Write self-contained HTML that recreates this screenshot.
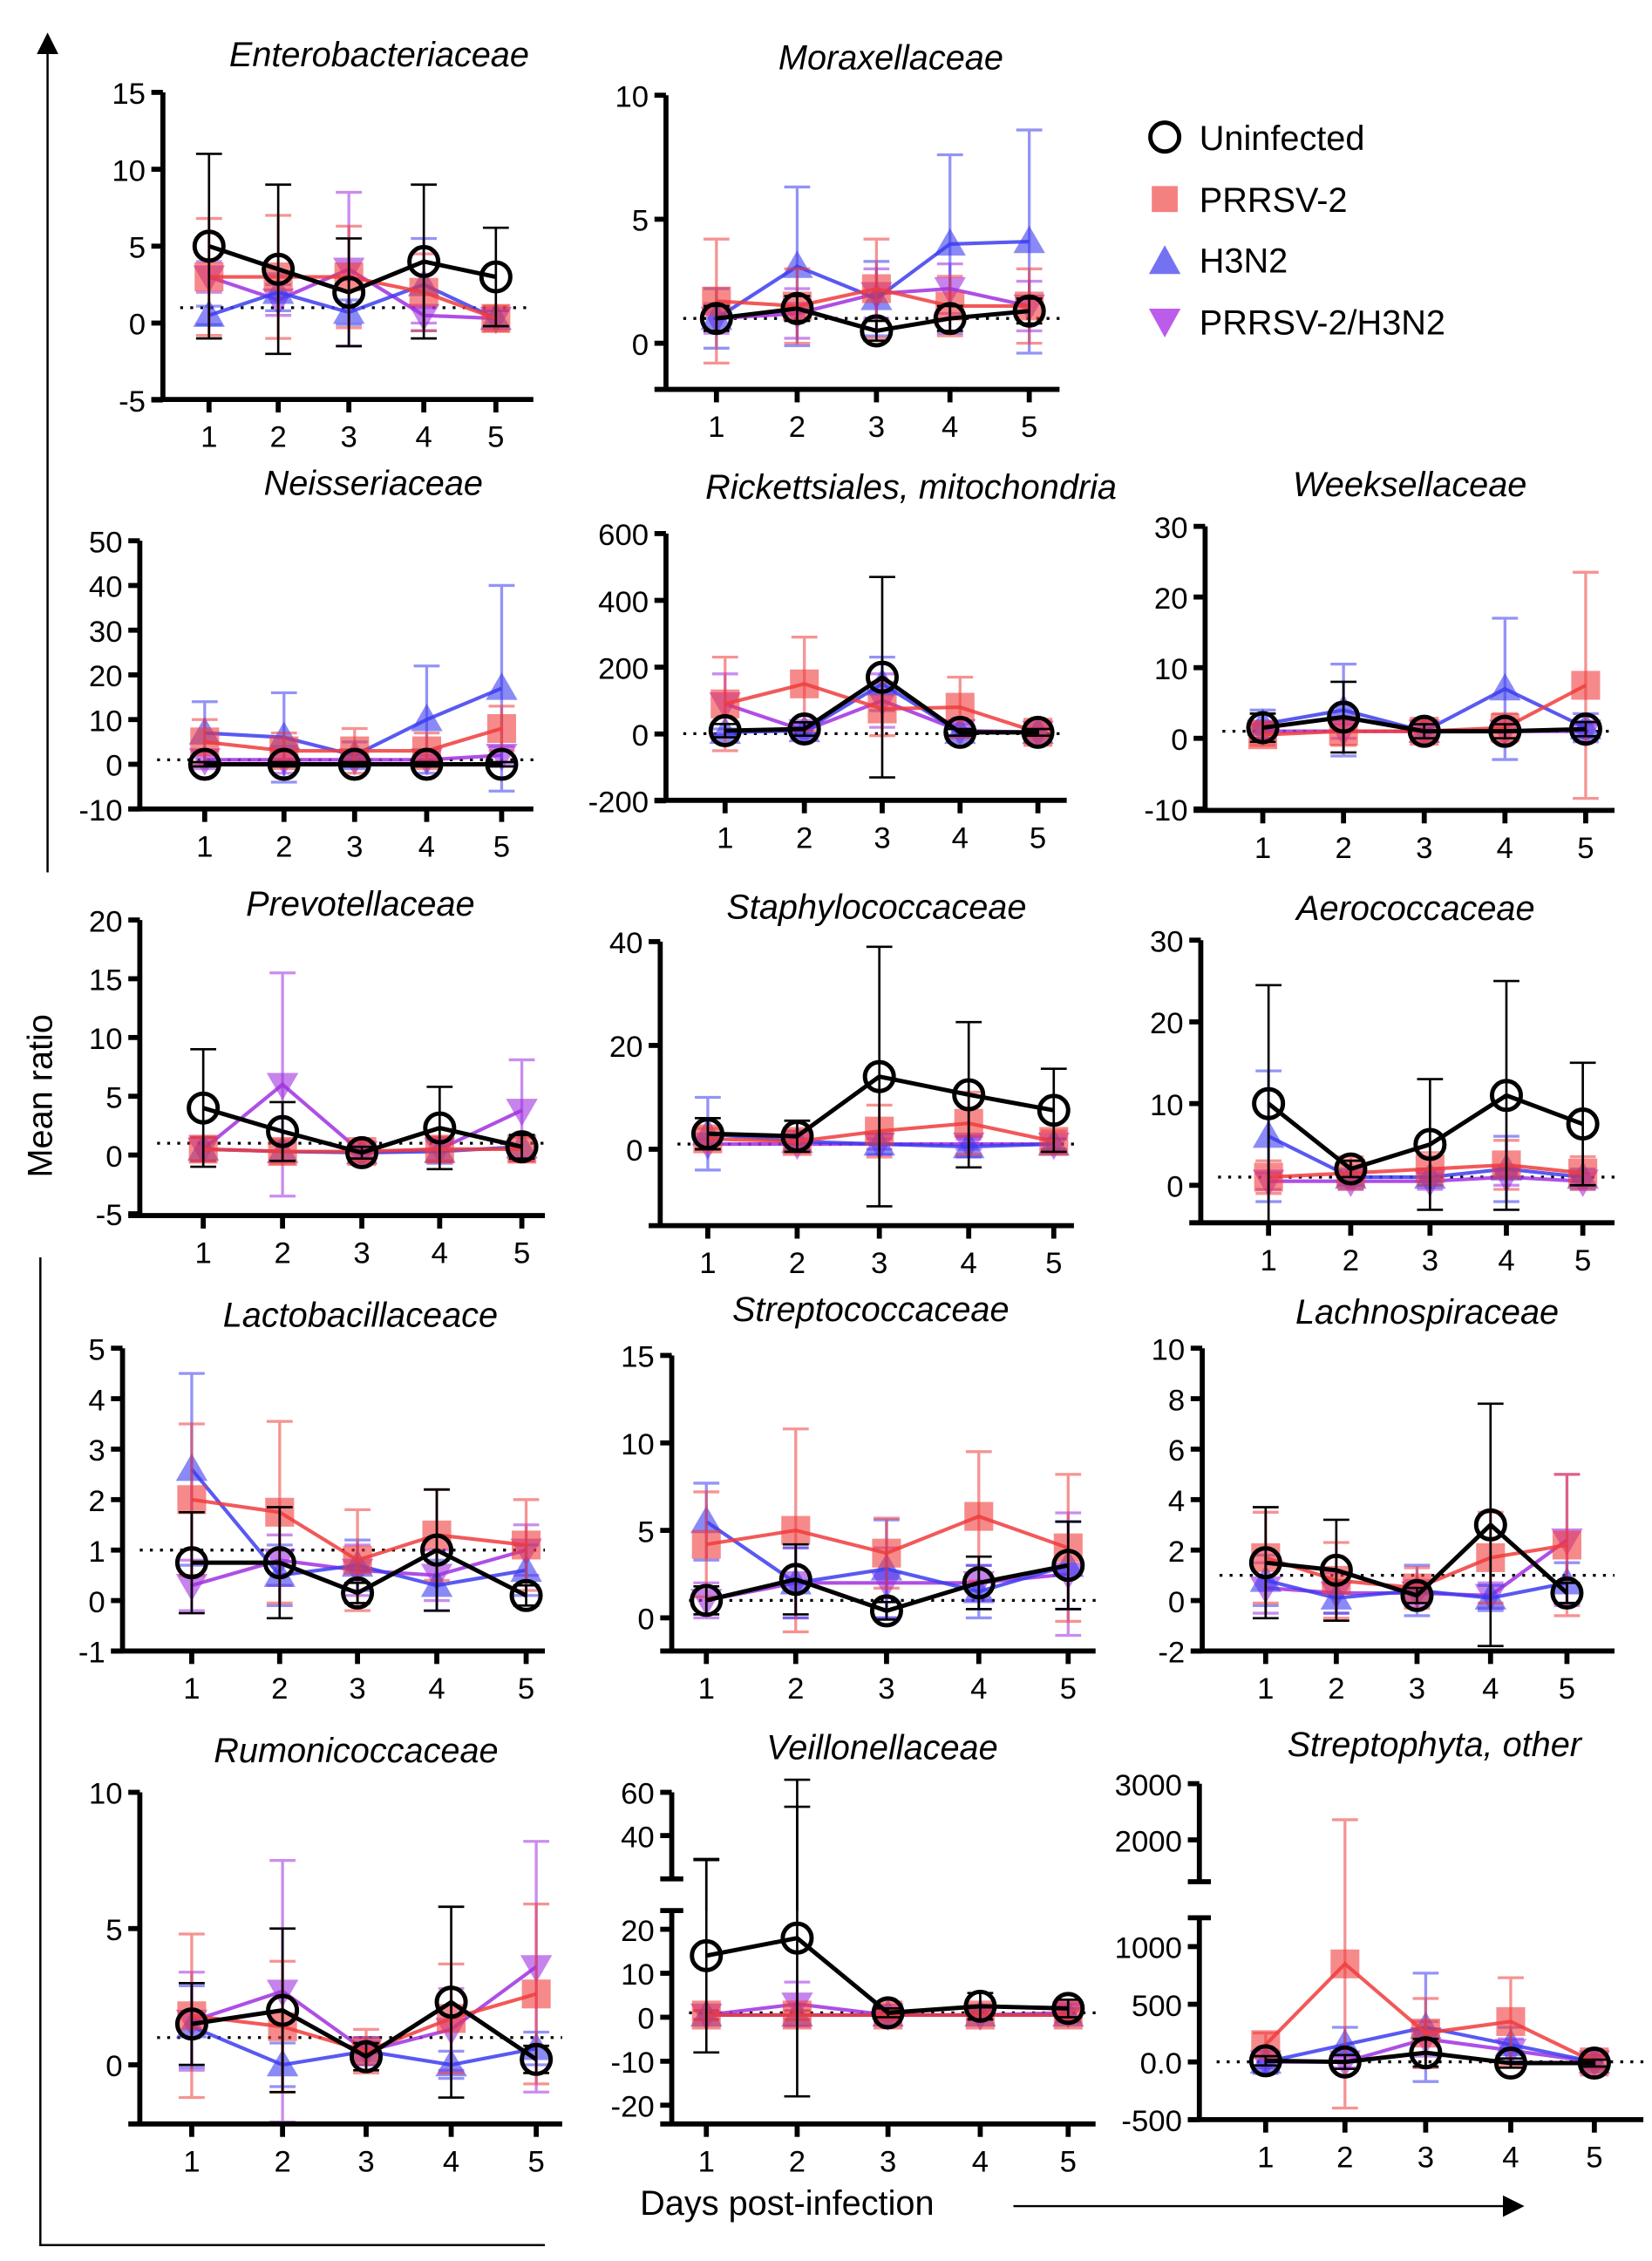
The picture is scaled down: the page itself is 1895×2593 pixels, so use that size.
<!DOCTYPE html>
<html><head><meta charset="utf-8">
<style>
html,body{margin:0;padding:0;background:#fff;}
svg{display:block;}
text{font-family:"Liberation Sans",Arial,sans-serif;fill:#000;}
</style></head>
<body>
<svg id="s" width="1895" height="2593" viewBox="0 0 1146 1568" xmlns="http://www.w3.org/2000/svg">
<defs>
<marker id="ah" markerWidth="10" markerHeight="10" refX="5" refY="5" orient="auto"><path d="M0,0 L10,5 L0,10 Z" fill="#000"/></marker>
</defs>
<line x1="33" y1="605" x2="33" y2="30" stroke="#000" stroke-width="1.5" marker-end="url(#ah)"/>
<text x="36" y="760" font-size="24" text-anchor="middle" transform="rotate(-90 36 760)">Mean ratio</text>
<polyline points="28,872 28,1557 378,1557" fill="none" stroke="#000" stroke-width="1.5"/>
<line x1="703" y1="1530" x2="1050" y2="1530" stroke="#000" stroke-width="1.5" marker-end="url(#ah)"/>
<text x="546" y="1536" font-size="24" text-anchor="middle">Days post-infection</text>
<g font-size="24">
<circle cx="808" cy="95" r="10" fill="none" stroke="#000" stroke-width="3"/><text x="832" y="104">Uninfected</text>
<rect x="799" y="129" width="18" height="18" fill="#f26060" opacity="0.8"/><text x="832" y="147">PRRSV-2</text>
<polygon points="808,170 819,190 797,190" fill="#5b5bf0" opacity="0.85"/><text x="832" y="189">H3N2</text>
<polygon points="797,214 819,214 808,234" fill="#b040e8" opacity="0.85"/><text x="832" y="232">PRRSV-2/H3N2</text>
</g>
<g id="g"></g>
</svg>
<script>
const P=[
{t:"Enterobacteriaceae",tx:263,ty:46,ax:113,top:64,bot:277,xr:370,v:[15,64,0,224],ticks:[[15,"15"],[10,"10"],[5,"5"],[0,"0"],[-5,"-5"]],xs:[145,193,242,294,344],
 k:[5,3.5,2,4,3],ke:[6,5.5,3.5,5,3.2],r:[3,3,3,2,0.3],re:[3.8,4,3.3,2.5,0.8],b:[0.5,2,0.7,2.5,0.3],be:[0.6,1.2,0.8,3,0.5],p:[3,1.5,3.5,0.5,0.3],pe:[1,1,5,0.5,0.5]},
{t:"Moraxellaceae",tx:618,ty:48,ax:462,top:66,bot:270,xr:735,v:[10,66,0,238],ticks:[[10,"10"],[5,"5"],[0,"0"]],xs:[497,553,608,659,714],
 k:[1,1.4,0.5,1,1.3],ke:[0.5,0.5,0.4,0.5,0.5],r:[1.7,1.5,2.2,1.5,1.5],re:[2.5,1.5,2,1.2,1.5],b:[1,3.1,1.8,4,4.1],be:[1.2,3.2,1.5,3.6,4.5],p:[1,1.2,2,2.2,1.5],pe:[0.6,1,1,1,1]},
{t:"Neisseriaceae",tx:259,ty:343,ax:97,top:375,bot:561,xr:370,v:[50,375,0,530],ticks:[[50,"50"],[40,"40"],[30,"30"],[20,"20"],[10,"10"],[0,"0"],[-10,"-10"]],xs:[142,197,246,296,348],
 k:[0,0,0,0,0],ke:[0.5,0.5,0.5,0.5,0.5],r:[5,3,3,3,8],re:[5,4,5,4,5],b:[7,6,2,10,17],be:[7,10,3,12,23],p:[1,1,1,1,2],pe:[2,3,1,1,2]},
{t:"Rickettsiales, mitochondria",tx:632,ty:346,ax:462,top:370,bot:555,xr:740,v:[600,370,0,509],ticks:[[600,"600"],[400,"400"],[200,"200"],[0,"0"],[-200,"-200"]],xs:[503,558,612,666,720],
 k:[10,15,170,5,5],ke:[20,20,300,10,10],r:[90,150,75,80,5],re:[140,140,80,90,10],b:[5,10,150,5,5],be:[10,10,80,10,10],p:[90,10,100,10,5],pe:[90,20,80,20,10]},
{t:"Weeksellaceae",tx:978,ty:344,ax:836,top:365,bot:562,xr:1120,v:[30,365,0,512],ticks:[[30,"30"],[20,"20"],[10,"10"],[0,"0"],[-10,"-10"]],xs:[876,932,988,1044,1100],
 k:[1.5,3,1,1,1.3],ke:[2,5,1,1,1],r:[0.5,1,1,1.5,7.5],re:[1.5,2,1.5,2,16],b:[2,4,1,7,1.5],be:[2,6.5,1,10,2],p:[1,1,1,1,1],pe:[1,1,1,1,1]},
{t:"Prevotellaceae",tx:250,ty:635,ax:97,top:638,bot:843,xr:378,v:[20,638,0,801],ticks:[[20,"20"],[15,"15"],[10,"10"],[5,"5"],[0,"0"],[-5,"-5"]],xs:[141,196,251,305,362],
 k:[4,2,0.2,2.3,0.7],ke:[5,2.5,0.5,3.5,1],r:[0.5,0.3,0.3,0.5,0.5],re:[1,1,0.8,1,1],b:[0.5,0.3,0.2,0.3,0.7],be:[1,0.8,0.5,1,1],p:[0.5,6,0.2,0.5,3.8],pe:[1,9.5,0.5,1,4.3]},
{t:"Staphylococcaceae",tx:608,ty:637,ax:458,top:653,bot:850,xr:745,v:[40,653,0,797],ticks:[[40,"40"],[20,"20"],[0,"0"]],xs:[491,553,610,672,731],
 k:[3,2.5,14,10.5,7.5],ke:[3,3,25,14,8],r:[2,1.5,3.5,5,1.5],re:[2,2,5,6,2],b:[3,1.5,1,0.5,1],be:[7,2,2,2,1],p:[1,1,1,1,1],pe:[1,1,1,1,1]},
{t:"Aerococcaceae",tx:982,ty:638,ax:833,top:652,bot:848,xr:1120,v:[30,652,0,822],ticks:[[30,"30"],[20,"20"],[10,"10"],[0,"0"]],xs:[880,937,992,1045,1098],
 k:[10,2,5,11,7.5],ke:[14.5,1,8,14,7.5],r:[1,1.5,2,2.5,1.5],re:[2,2,2,3,2],b:[6,1,1,2,1],be:[8,1,1,4,1],p:[0.5,0.5,0.5,1,0.5],pe:[1,1,1,1,1]},
{t:"Lactobacillaceace",tx:250,ty:920,ax:85,top:935,bot:1145,xr:378,v:[5,935,0,1110],ticks:[[5,"5"],[4,"4"],[3,"3"],[2,"2"],[1,"1"],[0,"0"],[-1,"-1"]],xs:[133,194,248,303,365],
 k:[0.75,0.75,0.15,1,0.1],ke:[1,1.1,0.2,1.2,0.2],r:[2,1.75,0.8,1.3,1.1],re:[1.5,1.8,1,0.9,0.9],b:[2.6,0.5,0.7,0.3,0.6],be:[1.9,0.6,0.5,0.5,0.5],p:[0.3,0.8,0.6,0.5,1],pe:[0.5,0.5,0.5,0.5,0.5]},
{t:"Streptococcaceae",tx:604,ty:916,ax:466,top:940,bot:1145,xr:760,v:[15,940,0,1122],ticks:[[15,"15"],[10,"10"],[5,"5"],[0,"0"]],xs:[490,552,615,679,741],
 k:[1,2.2,0.4,2,3],ke:[0.8,2,0.5,1.5,2.5],r:[4.2,5,3.7,5.8,4],re:[3,5.8,2,3.7,4.2],b:[5.5,2,2.8,1.5,3],be:[2.2,2,2.8,1.5,2.5],p:[1,2,2,2,2.5],pe:[1,2,2,1,3.5]},
{t:"Lachnospiraceae",tx:990,ty:918,ax:834,top:935,bot:1145,xr:1120,v:[10,935,0,1110],ticks:[[10,"10"],[8,"8"],[6,"6"],[4,"4"],[2,"2"],[0,"0"],[-2,"-2"]],xs:[878,927,983,1034,1087],
 k:[1.5,1.2,0.2,3,0.3],ke:[2.2,2,0.3,4.8,0.4],r:[1.7,0.8,0.5,1.7,2.2],re:[1.8,1.5,0.8,1.8,2.8],b:[0.8,0.1,0.4,0.1,0.7],be:[1,0.6,1,0.5,0.8],p:[0.5,0.3,0.3,0.2,2.4],pe:[1,0.8,0.5,0.5,2.6]},
{t:"Rumonicoccaceae",tx:247,ty:1222,ax:97,top:1243,bot:1473,xr:390,v:[10,1243,0,1432],ticks:[[10,"10"],[5,"5"],[0,"0"]],xs:[133,196,254,313,372],
 k:[1.5,2,0.3,2.3,0.2],ke:[1.5,3,0.5,3.5,0.5],r:[1.8,1.4,0.5,1.7,2.6],re:[3,2.4,0.8,2,3.3],b:[1.4,0,0.5,0,0.6],be:[1.5,0.8,0.5,0.5,0.6],p:[1.6,2.7,0.5,1.3,3.6],pe:[1.8,4.8,0.5,1.5,4.6]},
{t:"Veillonellaceae",tx:612,ty:1220,ax:466,top:1325,bot:1473,xr:760,v:[20,1338,0,1399],ticks:[[20,"20"],[10,"10"],[0,"0"],[-10,"-10"],[-20,"-20"]],xs:[490,553,616,680,741],brk:{top:1243,bt:1303,t:[[1243,"60"],[1273,"40"]],ex:[[490,1290],[553,1253]]},
 k:[14,18,1,2.5,2],ke:[22,36,1,3,2],r:[0.5,0.5,0.5,0.5,0.5],re:[1,1,1,1,1],b:[0.5,0.5,0.5,0.5,0.5],be:[1,1,1,1,1.5],p:[0.5,3,0.5,0.5,1],pe:[1,5,1,1,2]},
{t:"Streptophyta, other",tx:995,ty:1218,ax:832,top:1330,bot:1470,xr:1140,v:[1000,1350,0,1430],ticks:[[1000,"1000"],[500,"500"],[0,"0.0"],[-500,"-500"]],xs:[878,933,989,1048,1106],brk:{top:1237,bt:1305,t:[[1237,"3000"],[1276,"2000"]],ex:[]},
 k:[10,0,80,-10,-10],ke:[40,60,120,40,30],r:[150,850,250,350,0],re:[100,1250,300,380,50],b:[0,150,300,150,0],be:[100,150,470,150,60],p:[0,0,200,100,0],pe:[50,50,150,100,50]}
];
let h="";
const C={r:"#f03c3c",b:"#3c3cf0",p:"#a030e0"};
for(const q of P){
 const Y=v=>q.v[1]+(v-q.v[0])*(q.v[3]-q.v[1])/(q.v[2]-q.v[0]);
 h+=`<text x="${q.tx}" y="${q.ty}" font-size="24" font-style="italic" text-anchor="middle">${q.t}</text>`;
 // dotted
 h+=`<line x1="${q.ax+12}" y1="${Y(1)}" x2="${q.xr}" y2="${Y(1)}" stroke="#000" stroke-width="2" stroke-dasharray="2,5"/>`;
 // series
 const ser=[["p",q.p,q.pe],["b",q.b,q.be],["r",q.r,q.re],["k",q.k,q.ke]];
 for(const [c,d,e] of ser){
  const col=c=="k"?"#000":C[c], op=c=="k"?1:0.55;
  let pts=d.map((v,i)=>q.xs[i]+","+Y(v)).join(" ");
  for(let i=0;i<5;i++){const x=q.xs[i],y1=Y(d[i]+e[i]),y2=Y(d[i]-e[i]);
   h+=`<g stroke="${col}" stroke-width="${c=='k'?1.6:2}" opacity="${op}"><line x1="${x}" y1="${y1}" x2="${x}" y2="${y2}"/><line x1="${x-9}" y1="${y1}" x2="${x+9}" y2="${y1}"/><line x1="${x-9}" y1="${y2}" x2="${x+9}" y2="${y2}"/></g>`;}
  h+=`<polyline points="${pts}" fill="none" stroke="${col}" stroke-width="${c=='k'?3:2.5}" opacity="${c=='k'?1:0.85}"/>`;
  for(let i=0;i<5;i++){const x=q.xs[i],y=Y(d[i]);
   if(c=="k")h+=`<circle cx="${x}" cy="${y}" r="10" fill="none" stroke="#000" stroke-width="3"/>`;
   if(c=="r")h+=`<rect x="${x-10}" y="${y-10}" width="20" height="20" fill="${col}" opacity="0.6"/>`;
   if(c=="b")h+=`<polygon points="${x},${y-11} ${x+11},${y+8} ${x-11},${y+8}" fill="${col}" opacity="0.6"/>`;
   if(c=="p")h+=`<polygon points="${x-11},${y-8} ${x+11},${y-8} ${x},${y+11}" fill="${col}" opacity="0.6"/>`;}
 }
 // axes
 h+=`<line x1="${q.ax}" y1="${q.top}" x2="${q.ax}" y2="${q.bot}" stroke="#000" stroke-width="3.5"/>`;
 h+=`<line x1="${q.ax-8}" y1="${q.bot}" x2="${q.xr}" y2="${q.bot}" stroke="#000" stroke-width="3.5"/>`;
 for(const [v,l] of q.ticks){const y=Y(v);
  h+=`<line x1="${q.ax-8}" y1="${y}" x2="${q.ax}" y2="${y}" stroke="#000" stroke-width="3.5"/><text x="${q.ax-12}" y="${y+8}" font-size="21" text-anchor="end">${l}</text>`;}
 q.xs.forEach((x,i)=>{h+=`<line x1="${x}" y1="${q.bot}" x2="${x}" y2="${q.bot+9}" stroke="#000" stroke-width="3.5"/><text x="${x}" y="${q.bot+33}" font-size="21" text-anchor="middle">${i+1}</text>`;});
 if(q.brk){const b=q.brk;
  h+=`<line x1="${q.ax}" y1="${b.top}" x2="${q.ax}" y2="${b.bt}" stroke="#000" stroke-width="3.5"/>`;
  h+=`<line x1="${q.ax-8}" y1="${b.bt}" x2="${q.ax+8}" y2="${b.bt}" stroke="#000" stroke-width="3.5"/><line x1="${q.ax-8}" y1="${q.top}" x2="${q.ax+8}" y2="${q.top}" stroke="#000" stroke-width="3.5"/>`;
  for(const [y,l] of b.t)h+=`<line x1="${q.ax-8}" y1="${y}" x2="${q.ax}" y2="${y}" stroke="#000" stroke-width="3.5"/><text x="${q.ax-12}" y="${y+8}" font-size="21" text-anchor="end">${l}</text>`;
  for(const [x,y] of b.ex)h+=`<line x1="${x}" y1="${y}" x2="${x}" y2="${q.top}" stroke="#000" stroke-width="1.6"/><line x1="${x-9}" y1="${y}" x2="${x+9}" y2="${y}" stroke="#000" stroke-width="1.6"/>`;
 }
}
document.getElementById("g").innerHTML=h;
</script>
</body></html>
